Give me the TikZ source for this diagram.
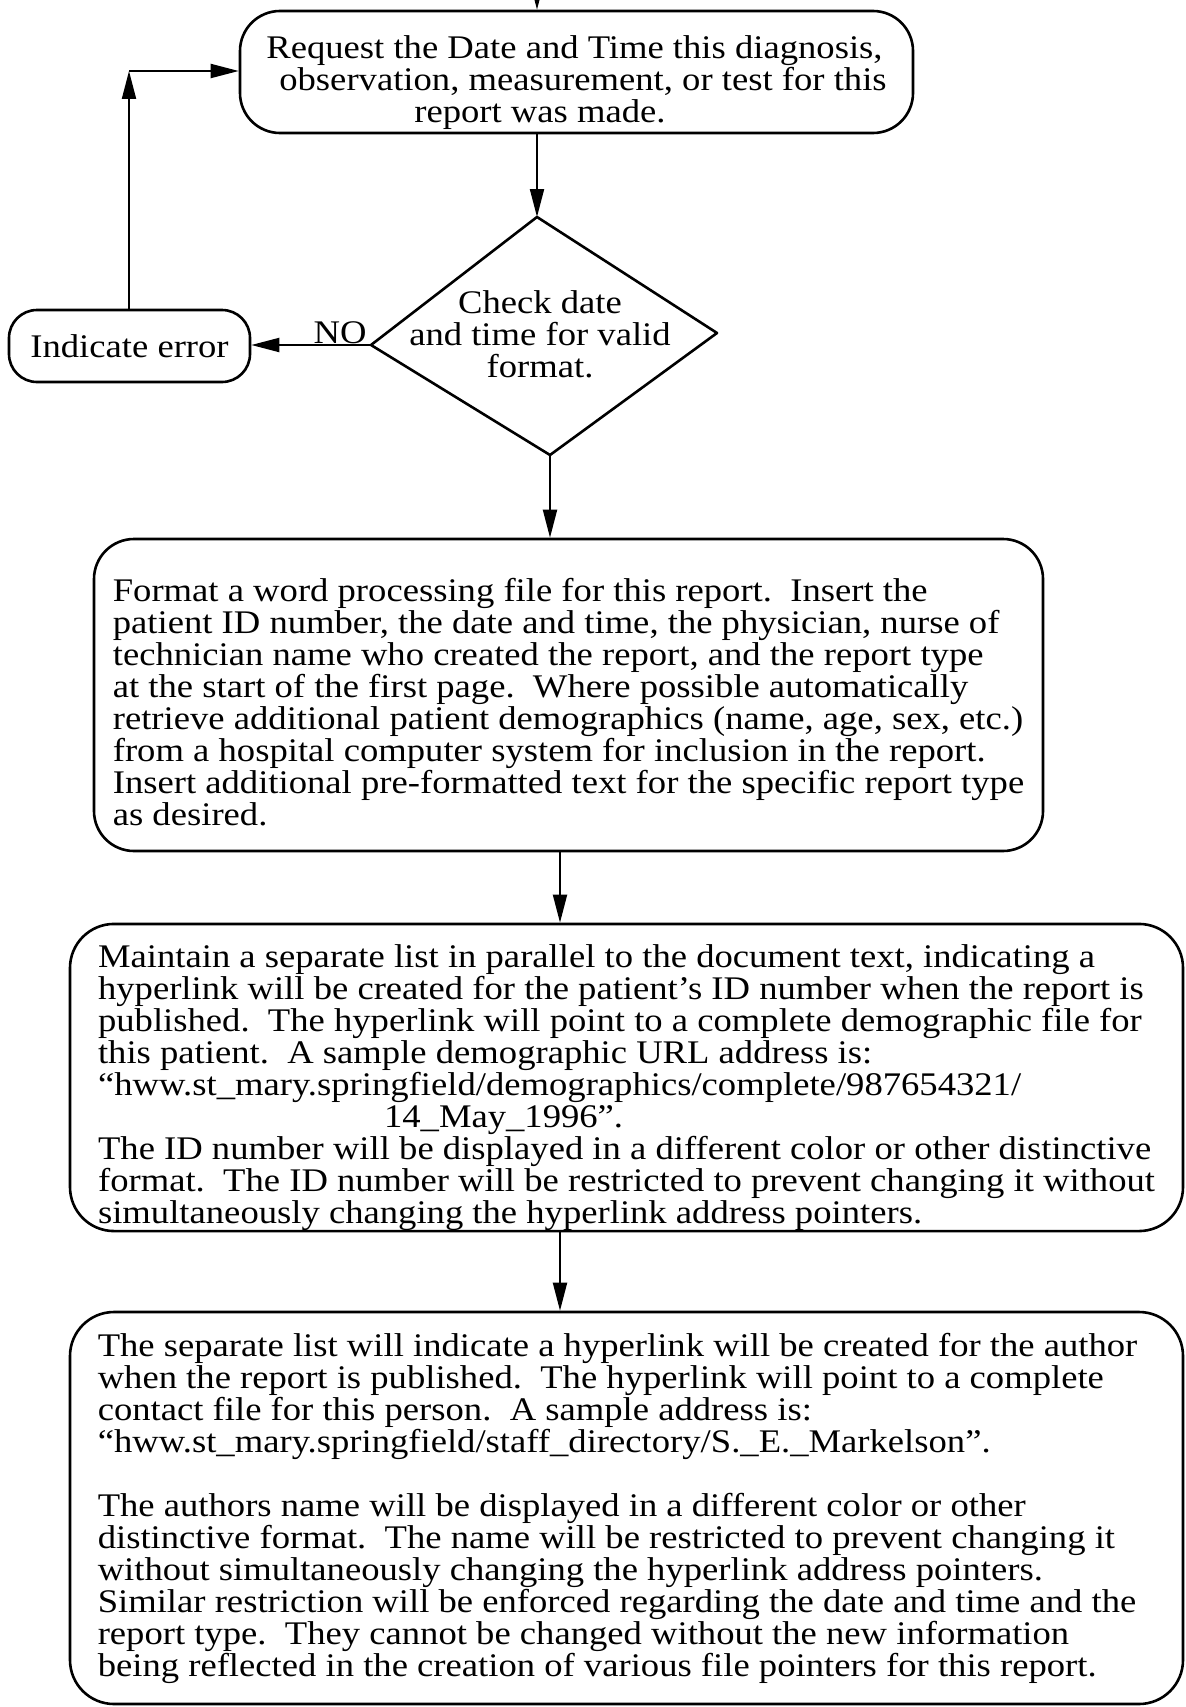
\documentclass[tikz,border=0pt]{standalone}
\usepackage{fontspec}
\setmainfont{Liberation Serif}[FakeStretch=1.11]
\usetikzlibrary{arrows.meta,calc}
\newcommand\boxfont{\fontsize{16.5}{16}\selectfont}
% taller first line pushes a text block downwards inside its box
\newcommand\toppad[1]{\rule{0pt}{#1}}
\begin{document}
\begin{tikzpicture}[x=0.5pt,y=-0.5pt,
  box/.style={draw, line width=1.3pt, rounded corners=20pt, inner sep=0pt,
    font=\boxfont, align=left},
  arr/.style={line width=1pt, -{Triangle[length=14pt,width=7pt]}},
  line/.style={line width=1.3pt, line join=round},
]
\useasboundingbox (0,0) rectangle (1186,1707);

% request step
\node[box, minimum width=336.5pt, minimum height=61pt] (req) at (576.5,72)
  {\toppad{22pt}Request the Date and Time this diagnosis,\\
   \hspace*{6.5pt}observation, measurement, or test for this\\
   \hspace*{74pt}report was made.};

% decision diamond
\coordinate (dT) at (537,217);
\coordinate (dR) at (717,333);
\coordinate (dB) at (550,455);
\coordinate (dL) at (371,345);
\draw[line] (dT) -- (dR) -- (dB) -- (dL) -- cycle;
\node[font=\boxfont, align=center] (chk) at (540,334)
  {Check date\\ and time for valid\\ format.};

% error step
\node[box, rounded corners=14pt, minimum width=120.5pt, minimum height=36pt] (err) at (129.5,346)
  {Indicate error};
\node[font=\boxfont, anchor=base east, inner sep=0pt] (no) at (367,343) {NO};

% word processing file
\node[box, minimum width=474.5pt, minimum height=156pt] (fmt) at (568.5,695)
  {\toppad{19pt}Format a word processing file for this report.\ \ Insert the\\
   patient ID number, the date and time, the physician, nurse of\\
   technician name who created the report, and the report type\\
   at the start of the first page.\ \ Where possible automatically\\
   retrieve additional patient demographics (name, age, sex, etc.)\\
   from a hospital computer system for inclusion in the report.\\
   Insert additional pre-formatted text for the specific report type\\
   as desired.};

% patient ID hyperlink list
\node[box, rounded corners=22pt, minimum width=556.5pt, minimum height=153.5pt] (pid) at (626.5,1077.5)
  {\toppad{22pt}Maintain a separate list in parallel to the document text, indicating a\\
   hyperlink will be created for the patient’s ID number when the report is\\
   published.\ \ The hyperlink will point to a complete demographic file for\\
   this patient.\ \ A sample demographic URL address is:\\
   “hww.st\_mary.springfield/demographics/complete/987654321/\\
   \hspace*{143pt}14\_May\_1996”.\\
   The ID number will be displayed in a different color or other distinctive\\
   format.\ \ The ID number will be restricted to prevent changing it without\\
   simultaneously changing the hyperlink address pointers.};

% author hyperlink
\node[box, rounded corners=22pt, minimum width=556.5pt, minimum height=196pt] (auth) at (626.5,1508)
  {The separate list will indicate a hyperlink will be created for the author\hspace*{9pt}\\
   when the report is published.\ \ The hyperlink will point to a complete\\
   contact file for this person.\ \ A sample address is:\\
   “hww.st\_mary.springfield/staff\_directory/S.\_E.\_Markelson”.\\[16pt]
   The authors name will be displayed in a different color or other\\
   distinctive format.\ \ The name will be restricted to prevent changing it\\
   without simultaneously changing the hyperlink address pointers.\\
   Similar restriction will be enforced regarding the date and time and the\hspace*{9pt}\\
   report type.\ \ They cannot be changed without the new information\\
   being reflected in the creation of various file pointers for this report.};

% connectors
\coordinate (entry) at (537,-20);
\coordinate (axis) at (560,0);
\coordinate (lp) at (129,71);
\draw[arr] (entry) -- (entry |- req.north);
\draw[arr] (dT |- req.south) -- (dT);
\draw[arr] (dL) -- (dL -| err.east);
\draw[arr] (err.north -| lp) -- (lp);
\draw[arr] (lp) -- (lp -| req.west);
\draw[arr] (dB) -- (dB |- fmt.north);
\draw[arr] (fmt.south -| axis) -- (pid.north -| axis);
\draw[arr] (pid.south -| axis) -- (auth.north -| axis);
\end{tikzpicture}
\end{document}
